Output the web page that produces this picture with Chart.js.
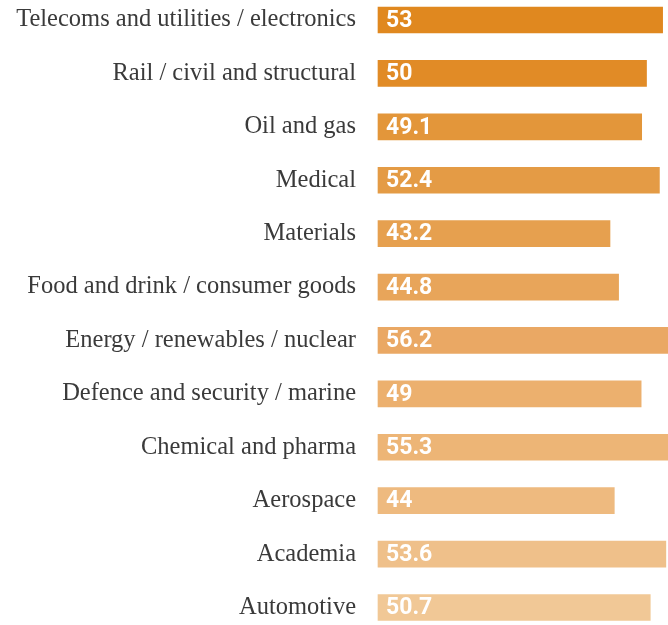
<!DOCTYPE html>
<html>
<head>
<meta charset="utf-8">
<script src="https://cdn.jsdelivr.net/npm/chart.js@4"></script>
<style>
    html, body { margin: 0; padding: 0; background: #fff; }
    #wrap { width: 668px; height: 625px; position: relative; }
</style>
</head>
<body>
<div id="wrap"><canvas id="sectorChart"></canvas></div>
<script>
var sectors = [
    'Telecoms and utilities / electronics',
    'Rail / civil and structural',
    'Oil and gas',
    'Medical',
    'Materials',
    'Food and drink / consumer goods',
    'Energy / renewables / nuclear',
    'Defence and security / marine',
    'Chemical and pharma',
    'Aerospace',
    'Academia',
    'Automotive'
];
var scores = [53, 50, 49.1, 52.4, 43.2, 44.8, 56.2, 49, 55.3, 44, 53.6, 50.7];
var barColours = [
    '#E0881F', '#E18B26', '#E3963A', '#E49B45', '#E6A04F', '#E8A55A',
    '#EAA864', '#ECB06E', '#EDB576', '#EEBA7F', '#EFC08A', '#F1C896'
];

// white value labels sitting just inside the left end of each bar
var valueLabels = {
    id: 'valueLabels',
    afterDatasetsDraw: function (chart) {
        var ctx = chart.ctx;
        var meta = chart.getDatasetMeta(0);
        ctx.save();
        ctx.fillStyle = '#ffffff';
        ctx.font = 'bold 23px Roboto';
        ctx.textAlign = 'left';
        ctx.textBaseline = 'middle';
        meta.data.forEach(function (bar, i) {
            ctx.fillText(String(scores[i]), bar.base + 8, bar.y + 1);
        });
        ctx.restore();
    }
};

var sectorChart = new Chart(document.getElementById('sectorChart'), {
    type: 'bar',
    data: {
        labels: sectors,
        datasets: [{
            data: scores,
            backgroundColor: barColours,
            borderWidth: 0,
            barThickness: 26,
            clip: false
        }]
    },
    options: {
        indexAxis: 'y',
        responsive: true,
        maintainAspectRatio: false,
        animation: false,
        layout: { padding: { top: 20, bottom: 17.5, left: 0, right: 0 } },
        scales: {
            x: {
                display: false,
                min: 0,
                max: 54
            },
            y: {
                offset: false,
                grid: { display: false, drawTicks: false },
                border: { display: false },
                afterFit: function (scale) {
                    scale.width = 378;
                    scale.paddingTop = 0;
                    scale.paddingBottom = 0;
                },
                ticks: {
                    padding: 22,
                    color: '#3a3a3a',
                    font: { family: 'Liberation Serif', size: 24.5 }
                }
            }
        },
        plugins: {
            legend: { display: false },
            tooltip: { enabled: false }
        }
    },
    plugins: [valueLabels]
});
</script>
</body>
</html>
